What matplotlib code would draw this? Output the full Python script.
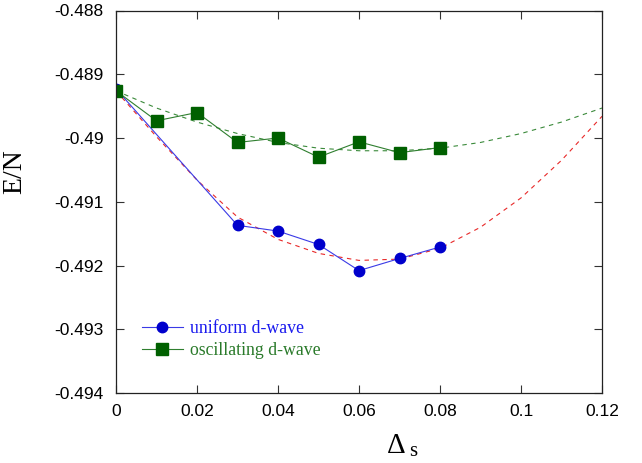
import matplotlib
matplotlib.use("Agg")
from matplotlib import pyplot as plt
import numpy as np

# data
delta_s = [0.0, 0.03, 0.04, 0.05, 0.06, 0.07, 0.08]
uniform_E = [-0.48923, -0.49137, -0.49146, -0.49167, -0.49208, -0.49189, -0.49171]

delta_osc = [0.0, 0.01, 0.02, 0.03, 0.04, 0.05, 0.06, 0.07, 0.08]
osc_E = [-0.48926, -0.48973, -0.48960, -0.49007, -0.49000, -0.49030, -0.49006, -0.49023, -0.49015]

# dashed fit curves (read at 0.01 steps)
fit_x = [0.0, 0.01, 0.02, 0.03, 0.04, 0.05, 0.06, 0.07, 0.08, 0.09, 0.10, 0.11, 0.12]
fit_uniform = [-0.48926, -0.48998, -0.49066, -0.49124, -0.49159, -0.49181, -0.49192,
               -0.49190, -0.49173, -0.49140, -0.49094, -0.49035, -0.48966]
fit_osc = [-0.48926, -0.48953, -0.48975, -0.48993, -0.49007, -0.49016, -0.49020,
           -0.49020, -0.49016, -0.49007, -0.48993, -0.48975, -0.48953]

xticks = [0, 0.02, 0.04, 0.06, 0.08, 0.1, 0.12]
xticklabels = ['0', '0.02', '0.04', '0.06', '0.08', '0.1', '0.12']
yticks = [-0.494, -0.493, -0.492, -0.491, -0.49, -0.489, -0.488]
yticklabels = ['-0.494', '-0.493', '-0.492', '-0.491', '-0.49', '-0.489', '-0.488']

fig = plt.figure(figsize=(6.42, 4.63), dpi=100)
ax = fig.add_axes([116/642, 1-393/463, 486/642, 382.5/463])

ax.plot(fit_x, fit_uniform, color='#e82828', lw=0.8, ls=(0, (4, 4)))
ax.plot(fit_x, fit_osc, color='#3a8a3a', lw=0.8, ls=(0, (4, 4)))

ax.plot(delta_s, uniform_E, color='#3a3ae6', lw=0.8, marker='o', ms=7.5,
        mfc='#0000cc', mec='#0000cc', label='uniform d-wave')
ax.plot(delta_osc, osc_E, color='#2f7f2f', lw=0.8, marker='s', ms=8,
        mfc='#006000', mec='#006000', label='oscillating d-wave')

ax.set_xlim(0, 0.12)
ax.set_ylim(-0.494, -0.488)
ax.set_xticks(xticks)
ax.set_xticklabels(xticklabels, fontname='Liberation Sans', fontsize=12.5)
ax.set_yticks(yticks)
ax.set_yticklabels(yticklabels, fontname='Liberation Sans', fontsize=12.5)
ax.tick_params(direction='in', length=5.5, width=0.8, top=True, right=True,
               color='#333333')
ax.tick_params(axis='x', pad=8)
ax.tick_params(axis='y', pad=9)
for sp in ax.spines.values():
    sp.set_linewidth(0.9)
    sp.set_color('#222222')

ax.set_ylabel('E/N', fontname='Liberation Serif', fontsize=20)
ax.yaxis.set_label_coords((27-116)/486, (393-172)/382.5)

fig.text(396/642, 1-453/463, 'Δ', fontname='Liberation Serif', fontsize=21,
         ha='center', va='baseline')
fig.text(409/642, 1-456/463, 's', fontname='Liberation Serif', fontsize=15,
         ha='left', va='baseline')

leg = ax.legend(loc='lower left', bbox_to_anchor=(0.027, 0.056), frameon=False,
                prop={'family': 'Liberation Serif', 'size': 12.8},
                handlelength=2.35, handletextpad=0.4, labelspacing=0.3,
                borderpad=0.2)
for txt, c in zip(leg.get_texts(), ['#1a1aee', '#2a7a2a']):
    txt.set_color(c)

fig.savefig('out.png', dpi=100)
